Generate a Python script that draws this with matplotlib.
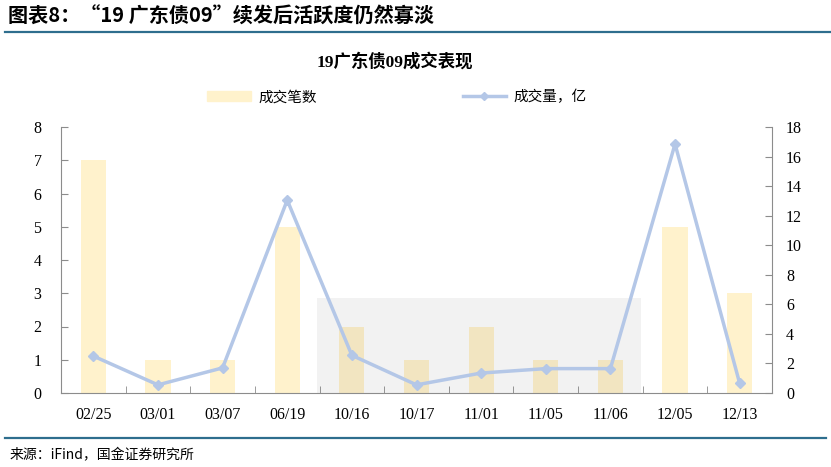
import numpy as np
import matplotlib.pyplot as plt
from matplotlib.patches import Rectangle
from matplotlib.lines import Line2D

dates = ['02/25', '03/01', '03/07', '06/19', '10/16', '10/17', '11/01', '11/05', '11/06', '12/05', '12/13']
trades = [7, 1, 1, 5, 2, 1, 2, 1, 1, 5, 3]
volume = [2.5, 0.55, 1.7, 13.05, 2.55, 0.55, 1.35, 1.65, 1.65, 16.85, 0.65]

cjk = ['Noto Sans CJK SC', 'DejaVu Sans']
serif = ['Liberation Serif', 'Noto Sans CJK SC']
bar_c = '#FFF2CC'
line_c = '#B4C7E7'
spine_c = '#8C8C8C'
rule_c = '#2E6E8E'

fig = plt.figure(figsize=(8.31, 4.67), dpi=100)
ax = fig.add_axes([61/831, 1-393/467, 711/831, 266/467])
ax2 = ax.twinx()

x = np.arange(len(dates))
ax.bar(x, trades, width=0.39, color=bar_c, zorder=1)
# shaded period
ax.add_patch(Rectangle((3.46, 0), 5.02, 2.86, facecolor=(0, 0, 0, 0.05), edgecolor='none', zorder=2))
ax2.plot(x, volume, color=line_c, lw=2.5, marker='D', ms=5, zorder=3)

ax.set_xlim(-0.5, len(dates) - 0.5)
ax.set_ylim(0, 8)
ax2.set_ylim(0, 18)
ax.set_yticks(range(0, 9))
ax2.set_yticks(range(0, 19, 2))
ax.set_xticks(x)
ax.set_xticklabels(dates)
ax.set_xticks(np.arange(-0.5, len(dates)), minor=True)
ax.tick_params(axis='x', which='major', length=0, pad=10)
ax.tick_params(axis='x', which='minor', direction='in', length=5, color=spine_c)
ax.tick_params(axis='y', direction='in', length=5, color=spine_c, pad=14)
ax2.tick_params(axis='y', direction='in', length=5, color=spine_c, pad=10)
for a in (ax, ax2):
    for lab in a.get_xticklabels() + a.get_yticklabels():
        lab.set_family(serif)
        lab.set_fontsize(11.5)
    for s in a.spines.values():
        s.set_color(spine_c)
    a.spines['top'].set_visible(False)
ax.spines['right'].set_visible(False)
ax2.spines['left'].set_visible(False)
ax2.spines['bottom'].set_visible(False)

# title and legend
fig.text(395/831, 1-62/467, '19广东债09成交表现', ha='center', va='center',
         family=serif, fontsize=12.5, fontweight='bold')
handles = [Rectangle((0, 0), 1, 1, color=bar_c),
           Line2D([], [], color=line_c, lw=2.5, marker='D', ms=4)]
fig.legend(handles, ['成交笔数', '成交量，亿'], loc='center', bbox_to_anchor=(397/831, 1-97/467),
           ncol=2, frameon=False, prop={'family': cjk, 'size': 10.5}, numpoints=1,
           handlelength=3, handleheight=0.7, columnspacing=10, handletextpad=0.5)

# header, rules and source
fig.text(8/831, 1-16/467, '图表8：“19 广东债09”续发后活跃度仍然寡淡', ha='left', va='center',
         family=cjk, fontsize=14.5, fontweight='bold')
fig.add_artist(Line2D([5/831, 1], [1-32/467, 1-32/467], color=rule_c, lw=1.6))
fig.add_artist(Line2D([5/831, 826/831], [1-438/467, 1-438/467], color=rule_c, lw=1.6))
fig.text(10/831, 1-455/467, '来源：iFind，国金证券研究所', ha='left', va='center',
         family=cjk, fontsize=10)

fig.savefig('out.png', dpi=100)
